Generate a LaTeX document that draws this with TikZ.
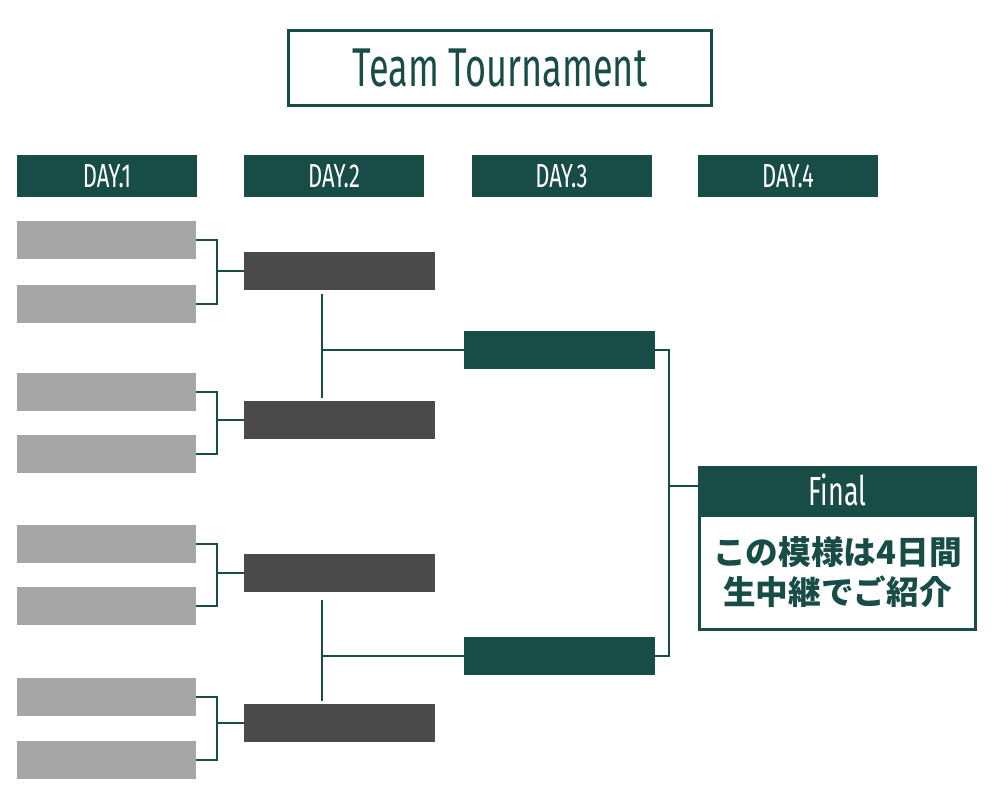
\documentclass[tikz,border=0pt]{standalone}
\usepackage{fontspec}
\usetikzlibrary{calc}
\newfontfamily\cond[FakeStretch=0.66]{Fira Sans}
\newfontfamily\jp{Noto Sans CJK JP}
\definecolor{tgreen}{RGB}{24,77,71}
\definecolor{tgray}{RGB}{166,166,166}
\definecolor{tdark}{RGB}{74,74,74}
\tikzset{
  box/.style={rectangle, inner sep=0pt, outer sep=0pt, minimum width=179*0.75, minimum height=38*0.75},
  gbox/.style={box, fill=tgray, minimum width=179*0.75},
  dbox/.style={box, fill=tdark, minimum width=191*0.75},
  cbox/.style={box, fill=tgreen, minimum width=191*0.75},
  dayhead/.style={box, fill=tgreen, minimum width=180*0.75, minimum height=42*0.75, text=white, font=\cond\fontsize{25}{25}\selectfont},
  conn/.style={draw=tgreen, line width=1.5pt},
}
\begin{document}
\begin{tikzpicture}[x=0.75pt, y=-0.75pt]
\useasboundingbox (0,0) rectangle (1000,800);
% title
\node[rectangle, draw=tgreen, line width=2.25pt, minimum width=423*0.75, minimum height=75*0.75, inner sep=0pt, text=tgreen, font=\cond\fontsize{41}{41}\selectfont] (title) at (500,68) {Team Tournament};
% day headers
\node[dayhead] (d1) at (107,176) {DAY.1};
\node[dayhead] (d2) at (334,176) {DAY.2};
\node[dayhead] (d3) at (561.5,176) {DAY.3};
\node[dayhead] (d4) at (788,176) {DAY.4};
% day 1
\node[gbox] (a1) at (106.5,240) {};
\node[gbox] (a2) at (106.5,304) {};
\node[gbox] (a3) at (106.5,392) {};
\node[gbox] (a4) at (106.5,454) {};
\node[gbox] (a5) at (106.5,544) {};
\node[gbox] (a6) at (106.5,606) {};
\node[gbox] (a7) at (106.5,697) {};
\node[gbox] (a8) at (106.5,760) {};
% day 2
\node[dbox] (b1) at (339.5,271) {};
\node[dbox] (b2) at (339.5,420) {};
\node[dbox] (b3) at (339.5,573) {};
\node[dbox] (b4) at (339.5,723) {};
% day 3
\node[cbox] (c1) at (559.5,350) {};
\node[cbox] (c2) at (559.5,656) {};
% final
\node[box, fill=tgreen, minimum width=279*0.75, minimum height=48*0.75, text=white, font=\cond\fontsize{30.5}{30.5}\selectfont] (fh) at (837.5,490) {Final};
\node[box, draw=tgreen, line width=2.25pt, minimum width=276*0.75, minimum height=114*0.75, text=tgreen, align=center, font=\jp\bfseries\fontsize{24.5}{30}\selectfont] (fb) at (837.5,572.5) {この模様は4日間\\生中継でご紹介};
% brackets day1 -> day2
\draw[conn] (a1.east) -- ++(21,0) coordinate (k1) |- (a2.east);
\draw[conn] (k1 |- b1.west) -- (b1.west);
\draw[conn] (a3.east) -- ++(21,0) coordinate (k2) |- (a4.east);
\draw[conn] (k2 |- b2.west) -- (b2.west);
\draw[conn] (a5.east) -- ++(21,0) coordinate (k3) |- (a6.east);
\draw[conn] (k3 |- b3.west) -- (b3.west);
\draw[conn] (a7.east) -- ++(21,0) coordinate (k4) |- (a8.east);
\draw[conn] (k4 |- b4.west) -- (b4.west);
% day2 -> day3
\coordinate (v) at (322,0);
\draw[conn] ($(b1.south -| v)+(0,4)$) -- ($(b2.north -| v)+(0,-3)$);
\draw[conn] (c1.west -| v) -- (c1.west);
\draw[conn] ($(b3.south -| v)+(0,8)$) -- ($(b4.north -| v)+(0,-3)$);
\draw[conn] (c2.west -| v) -- (c2.west);
% day3 -> final
\draw[conn] (c1.east) -- ++(14,0) coordinate (k5) |- (c2.east);
\draw[conn] ($(k5 |- fh.west)+(0,-4)$) -- ($(fh.west)+(0,-4)$);
\end{tikzpicture}
\end{document}
